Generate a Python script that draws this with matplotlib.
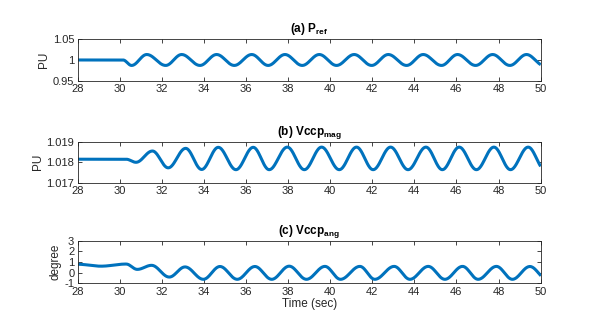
import numpy as np
import matplotlib
matplotlib.use("Agg")
import matplotlib.pyplot as plt

plt.rcParams['font.family'] = ['Liberation Sans', 'DejaVu Sans']
plt.rcParams['mathtext.fontset'] = 'custom'
plt.rcParams['mathtext.rm'] = 'Liberation Sans'
plt.rcParams['mathtext.bf'] = 'Liberation Sans:bold'

# Key points (time, value): flat start and extrema
pref_t = [28, 30.15, 30.56, 31.28, 32.18, 32.94, 33.81, 34.6, 35.44, 36.27, 37.05, 37.85,
          38.67, 39.48, 40.3, 41.14, 41.97, 42.76, 43.63, 44.42, 45.29, 46.05, 46.91,
          47.72, 48.54, 49.33, 50.15]
pref_v = [1.0, 1.0, 0.987, 1.013, 0.987, 1.013, 0.987, 1.013, 0.987, 1.013, 0.987, 1.013,
          0.987, 1.013, 0.987, 1.013, 0.987, 1.013, 0.987, 1.013, 0.987, 1.013, 0.987,
          1.013, 0.987, 1.013, 0.987]

vmag_t = [28, 30.3, 30.77, 31.55, 32.3, 33.13, 33.89, 34.68, 35.52, 36.34, 37.1, 37.96,
          38.77, 39.59, 40.43, 41.25, 42.04, 42.87, 43.7, 44.55, 45.33, 46.13, 46.95,
          47.78, 48.57, 49.41, 50.2]
vmag_v = [1.01815, 1.01815, 1.01800, 1.01855, 1.01773, 1.01868, 1.01765, 1.01873, 1.01764,
          1.01873, 1.01764, 1.01874, 1.01764, 1.01874, 1.01764, 1.01874, 1.01764, 1.01874,
          1.01764, 1.01874, 1.01764, 1.01874, 1.01764, 1.01874, 1.01764, 1.01874, 1.01764]

vang_t = [28, 29.1, 30.3, 30.83, 31.51, 32.35, 33.1, 33.97, 34.76, 35.58, 36.42, 37.22,
          38.05, 38.87, 39.75, 40.49, 41.41, 42.12, 43.04, 43.79, 44.66, 45.45, 46.29,
          47.03, 47.9, 48.66, 49.49, 50.3]
vang_v = [0.78, 0.6, 0.8, 0.3, 0.68, -0.42, 0.53, -0.63, 0.57, -0.63, 0.57, -0.63,
          0.6, -0.63, 0.58, -0.63, 0.58, -0.63, 0.58, -0.63, 0.58, -0.63, 0.58,
          -0.63, 0.58, -0.63, 0.57, -0.63]


def smooth(t, v, n=40):
    """Half-cosine easing between successive key points (rendering only)."""
    xs, ys = [], []
    for i in range(len(t) - 1):
        s = np.linspace(0, 1, n, endpoint=False)
        xs.append(t[i] + (t[i + 1] - t[i]) * s)
        ys.append(v[i] + (v[i + 1] - v[i]) * (1 - np.cos(np.pi * s)) / 2)
    xs.append([t[-1]]); ys.append([v[-1]])
    return np.concatenate(xs), np.concatenate(ys)


fig = plt.figure(figsize=(5.98, 3.36), dpi=100)
gray = '#262626'
color = '#0072BD'

panels = [
    ([0.13, 0.759, 0.774, 0.125], pref_t, pref_v, (0.95, 1.05), [0.95, 1, 1.05],
     ['0.95', '1', '1.05'], 'PU', r'(a) $\mathbf{P_{ref}}$'),
    ([0.13, 0.456, 0.774, 0.122], vmag_t, vmag_v, (1.017, 1.019), [1.017, 1.018, 1.019],
     ['1.017', '1.018', '1.019'], 'PU', r'(b) $\mathbf{Vccp_{mag}}$'),
    ([0.13, 0.157, 0.774, 0.127], vang_t, vang_v, (-1, 3), [-1, 0, 1, 2, 3],
     ['-1', '0', '1', '2', '3'], 'degree', r'(c) $\mathbf{Vccp_{ang}}$'),
]

xticks = list(range(28, 51, 2))
for i, (pos, t, v, ylim, yt, ytl, ylab, title) in enumerate(panels):
    ax = fig.add_axes(pos)
    x, y = smooth(t, v)
    ax.plot(x, y, color=color, lw=2.2, solid_capstyle='butt')
    ax.set_xlim(28, 50)
    ax.set_ylim(*ylim)
    ax.set_xticks(xticks)
    ax.set_xticklabels([str(k) for k in xticks])
    ax.set_yticks(yt)
    ax.set_yticklabels(ytl)
    ax.tick_params(direction='in', length=3, width=0.6, colors=gray, labelsize=8,
                   top=True, right=True, pad=2.5)
    for sp in ax.spines.values():
        sp.set_color(gray)
        sp.set_linewidth(0.6)
    ax.set_ylabel(ylab, fontsize=8.5, color=gray, labelpad=2)
    ax.set_title(title, fontsize=8.5, fontweight='bold', color='black', pad=5)
    if i == 2:
        ax.set_xlabel('Time (sec)', fontsize=8.5, color=gray, labelpad=1)

fig.savefig('out.png', dpi=100)
